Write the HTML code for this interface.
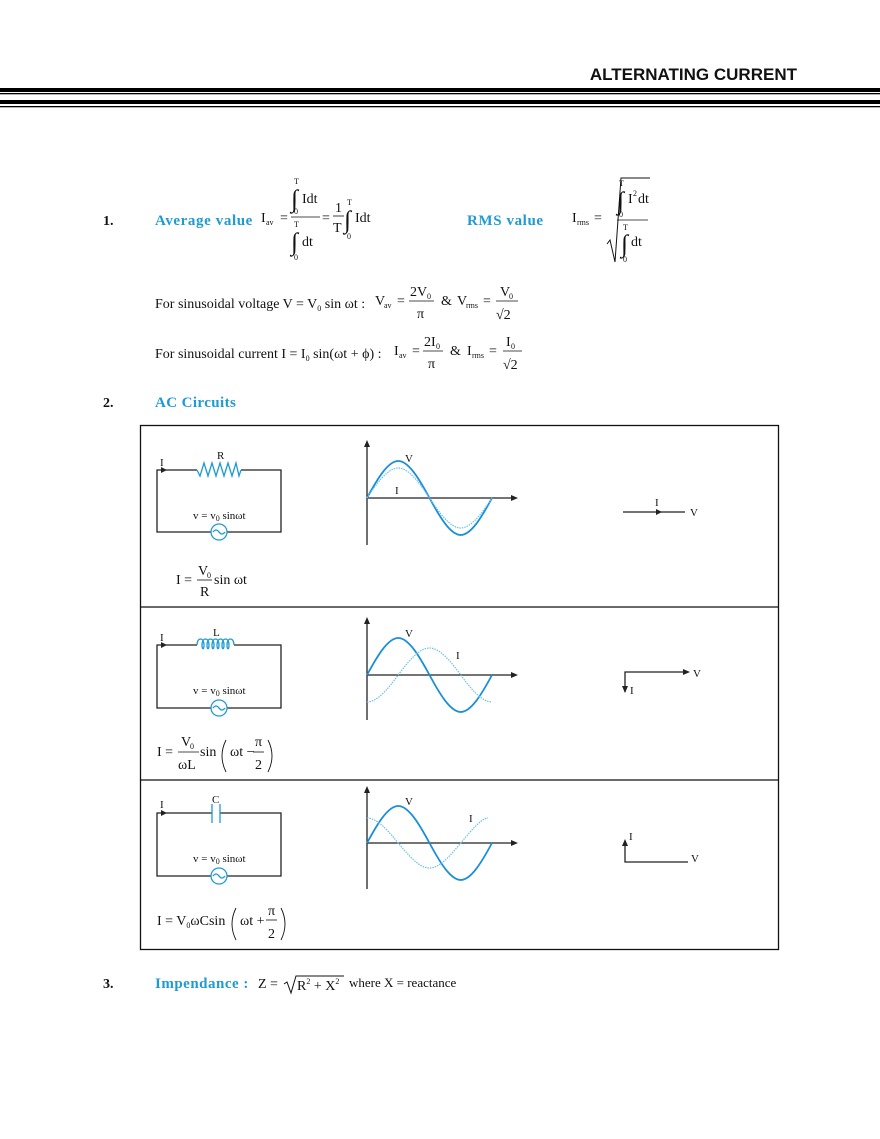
<!DOCTYPE html>
<html><head><meta charset="utf-8"><style>
html,body{margin:0;padding:0;background:#fff;}
svg{display:block;}
text{font-family:"Liberation Serif",serif;fill:#111;}
.b{fill:#1e9bd3;font-weight:bold;font-size:15px;}
.s{font-size:8px;}
.m{font-size:14px;}
.i{font-size:25px;}
</style></head><body>
<svg width="880" height="1139" viewBox="0 0 880 1139" xmlns="http://www.w3.org/2000/svg">
<text x="797" y="80" text-anchor="end" style="font-family:'Liberation Sans',sans-serif;font-weight:bold;font-size:17px">ALTERNATING CURRENT</text>
<rect x="0" y="88" width="880" height="4" fill="#000"/>
<rect x="0" y="93" width="880" height="1.3" fill="#000"/>
<rect x="0" y="100" width="880" height="4" fill="#000"/>
<rect x="0" y="106" width="880" height="1.3" fill="#000"/>

<!-- Section 1 -->
<text x="103" y="225" style="font-weight:bold;font-size:14px">1.</text>
<text x="155" y="225" class="b" style="letter-spacing:0.6px">Average value</text>
<text x="261" y="222" class="m">I</text><text x="266" y="225" class="s">av</text>
<text x="280" y="222" class="m">=</text>
<text x="294" y="184" class="s">T</text>
<text x="291" y="207" class="i">∫</text>
<text x="302" y="203" class="m">Idt</text>
<text x="294" y="214" class="s">0</text>
<line x1="291" y1="217" x2="320" y2="217" stroke="#111" stroke-width="0.8"/>
<text x="294" y="227" class="s">T</text>
<text x="291" y="250" class="i">∫</text>
<text x="302" y="246" class="m">dt</text>
<text x="294" y="260" class="s">0</text>
<text x="322" y="222" class="m">=</text>
<text x="335" y="212" class="m">1</text>
<line x1="333" y1="216" x2="344" y2="216" stroke="#111" stroke-width="0.8"/>
<text x="333" y="232" class="m">T</text>
<text x="347" y="205" class="s">T</text>
<text x="344" y="228" class="i">∫</text>
<text x="355" y="222" class="m">Idt</text>
<text x="347" y="239" class="s">0</text>

<text x="467" y="225" class="b" style="letter-spacing:0.6px">RMS value</text>
<text x="572" y="222" class="m">I</text><text x="577" y="225" class="s">rms</text>
<text x="594" y="222" class="m">=</text>
<polyline points="607,244 610,240 615,262 621,178 650,178" fill="none" stroke="#111" stroke-width="1"/>
<text x="619" y="186" class="s">T</text>
<text x="617" y="209" class="i">∫</text>
<text x="628" y="203" class="m">I</text><text x="633" y="196" class="s">2</text><text x="638" y="203" class="m">dt</text>
<text x="619" y="217" class="s">0</text>
<line x1="617" y1="220" x2="648" y2="220" stroke="#111" stroke-width="0.8"/>
<text x="623" y="230" class="s">T</text>
<text x="621" y="252" class="i">∫</text>
<text x="631" y="246" class="m">dt</text>
<text x="623" y="262" class="s">0</text>

<text x="155" y="308" class="m">For sinusoidal voltage V = V<tspan class="s" dy="3">0</tspan><tspan dy="-3"> sin ωt :</tspan></text>
<text x="375" y="305" class="m">V</text><text x="384" y="308" class="s">av</text>
<text x="397" y="305" class="m">=</text>
<text x="410" y="296" class="m">2V</text><text x="427" y="299" class="s">0</text>
<line x1="409" y1="301" x2="434" y2="301" stroke="#111" stroke-width="0.8"/>
<text x="417" y="318" class="m">π</text>
<text x="441" y="305" class="m">&amp;</text>
<text x="457" y="305" class="m">V</text><text x="466" y="308" class="s">rms</text>
<text x="483" y="305" class="m">=</text>
<text x="500" y="296" class="m">V</text><text x="509" y="299" class="s">0</text>
<line x1="496" y1="301" x2="518" y2="301" stroke="#111" stroke-width="0.8"/>
<text x="496" y="319" class="m">√2</text>

<text x="155" y="358" class="m">For sinusoidal current I = I<tspan class="s" dy="3">0</tspan><tspan dy="-3"> sin(ωt + ϕ) :</tspan></text>
<text x="394" y="355" class="m">I</text><text x="399" y="358" class="s">av</text>
<text x="412" y="355" class="m">=</text>
<text x="424" y="346" class="m">2I</text><text x="436" y="349" class="s">0</text>
<line x1="423" y1="351" x2="443" y2="351" stroke="#111" stroke-width="0.8"/>
<text x="428" y="368" class="m">π</text>
<text x="450" y="355" class="m">&amp;</text>
<text x="467" y="355" class="m">I</text><text x="472" y="358" class="s">rms</text>
<text x="489" y="355" class="m">=</text>
<text x="506" y="346" class="m">I</text><text x="511" y="349" class="s">0</text>
<line x1="503" y1="351" x2="522" y2="351" stroke="#111" stroke-width="0.8"/>
<text x="503" y="369" class="m">√2</text>

<!-- Section 2 -->
<text x="103" y="407" style="font-weight:bold;font-size:14px">2.</text>
<text x="155" y="407" class="b" style="letter-spacing:0.4px">AC Circuits</text>

<rect x="140.5" y="425.5" width="638" height="524" fill="none" stroke="#111" stroke-width="1.3"/>
<line x1="140" y1="607" x2="779" y2="607" stroke="#111" stroke-width="1.3"/>
<line x1="140" y1="780" x2="779" y2="780" stroke="#111" stroke-width="1.3"/>

<g fill="none" stroke="#222" stroke-width="1.3">
<polyline points="197,470 157,470 157,532 211,532"/>
<polyline points="241,470 281,470 281,532 227,532"/>
<polyline points="197,645 157,645 157,708 211,708"/>
<polyline points="234,645 281,645 281,708 227,708"/>
<polyline points="212,813 157,813 157,876 211,876"/>
<polyline points="220,813 281,813 281,876 227,876"/>
</g>
<g fill="#222">
<polygon points="161,467 167,470 161,473"/>
<polygon points="161,642 167,645 161,648"/>
<polygon points="161,810 167,813 161,816"/>
</g>
<g fill="none" stroke="#1e9bd3" stroke-width="1.3">
<polyline points="197,470 200,476 204,463 208,476 212,463 216,476 220,463 224,476 228,463 232,476 236,463 239,476 241,470"/>
<path d="M197,645 c0,-8 7,-8 7,0 c0,5 -2,5 -2,0 c0,-8 7,-8 7,0 c0,5 -2,5 -2,0 c0,-8 7,-8 7,0 c0,5 -2,5 -2,0 c0,-8 7,-8 7,0 c0,5 -2,5 -2,0 c0,-8 7,-8 7,0 c0,5 -2,5 -2,0 c0,-8 7,-8 7,0 c0,5 -2,5 -2,0 c0,-8 7,-8 7,0"/>
<line x1="212" y1="804" x2="212" y2="823"/>
<line x1="220" y1="804" x2="220" y2="823"/>
<circle cx="219" cy="532" r="8"/><path d="M213,532 q3,-4 6,0 q3,4 6,0"/>
<circle cx="219" cy="708" r="8"/><path d="M213,708 q3,-4 6,0 q3,4 6,0"/>
<circle cx="219" cy="876" r="8"/><path d="M213,876 q3,-4 6,0 q3,4 6,0"/>
</g>
<g style="font-size:11px">
<text x="160" y="466">I</text><text x="217" y="459">R</text>
<text x="160" y="641">I</text><text x="213" y="636">L</text>
<text x="160" y="808">I</text><text x="212" y="803">C</text>
<text x="193" y="519">v = v<tspan class="s" dy="2">0</tspan><tspan dy="-2"> sinωt</tspan></text>
<text x="193" y="694">v = v<tspan class="s" dy="2">0</tspan><tspan dy="-2"> sinωt</tspan></text>
<text x="193" y="862">v = v<tspan class="s" dy="2">0</tspan><tspan dy="-2"> sinωt</tspan></text>
</g>

<text x="176" y="584" class="m">I =</text>
<text x="198" y="575" class="m">V</text><text x="207" y="578" class="s">0</text>
<line x1="197" y1="580" x2="212" y2="580" stroke="#111" stroke-width="0.8"/>
<text x="200" y="596" class="m">R</text>
<text x="214" y="584" class="m">sin ωt</text>

<text x="157" y="756" class="m">I =</text>
<text x="181" y="746" class="m">V</text><text x="190" y="749" class="s">0</text>
<line x1="178" y1="752" x2="199" y2="752" stroke="#111" stroke-width="0.8"/>
<text x="178" y="769" class="m">ωL</text>
<text x="200" y="756" class="m">sin</text>
<path d="M226,740 q-8,16 0,32" fill="none" stroke="#111" stroke-width="0.9"/>
<text x="230" y="756" class="m">ωt −</text>
<text x="255" y="746" class="m">π</text>
<line x1="253" y1="752" x2="264" y2="752" stroke="#111" stroke-width="0.8"/>
<text x="255" y="769" class="m">2</text>
<path d="M268,740 q8,16 0,32" fill="none" stroke="#111" stroke-width="0.9"/>

<text x="157" y="925" class="m">I = V<tspan class="s" dy="3">0</tspan><tspan dy="-3">ωCsin</tspan></text>
<path d="M236,908 q-8,16 0,32" fill="none" stroke="#111" stroke-width="0.9"/>
<text x="240" y="925" class="m">ωt +</text>
<text x="268" y="915" class="m">π</text>
<line x1="266" y1="920" x2="277" y2="920" stroke="#111" stroke-width="0.8"/>
<text x="268" y="938" class="m">2</text>
<path d="M281,908 q8,16 0,32" fill="none" stroke="#111" stroke-width="0.9"/>

<g stroke="#222" stroke-width="1.3" fill="none">
<line x1="367" y1="545" x2="367" y2="445"/><line x1="367" y1="498" x2="513" y2="498"/>
<line x1="367" y1="720" x2="367" y2="622"/><line x1="367" y1="675" x2="513" y2="675"/>
<line x1="367" y1="889" x2="367" y2="791"/><line x1="367" y1="843" x2="513" y2="843"/>
</g>
<g fill="#222">
<polygon points="364,447 367,440 370,447"/><polygon points="511,495 518,498 511,501"/>
<polygon points="364,624 367,617 370,624"/><polygon points="511,672 518,675 511,678"/>
<polygon points="364,793 367,786 370,793"/><polygon points="511,840 518,843 511,846"/>
</g>
<g fill="none" stroke="#1a8fd8" stroke-width="1.8">
<path d="M367,498 C377.2,479.1 387.9,461 398.25,461 C408.6,461 419.3,479.1 429.5,498 C439.7,516.9 450.4,535 460.75,535 C471.1,535 481.8,516.9 492,498"/>
<path d="M367,675 C377.2,656.1 387.9,638 398.25,638 C408.6,638 419.3,656.1 429.5,675 C439.7,693.9 450.4,712 460.75,712 C471.1,712 481.8,693.9 492,675"/>
<path d="M367,843 C377.2,824.1 387.9,806 398.25,806 C408.6,806 419.3,824.1 429.5,843 C439.7,861.9 450.4,880 460.75,880 C471.1,880 481.8,861.9 492,843"/>
</g>
<g fill="none" stroke="#6cc0ea" stroke-width="1.2" stroke-dasharray="1.5,1">
<path d="M367,498 C377.2,482.6 387.9,468 398.25,468 C408.6,468 419.3,482.6 429.5,498 C439.7,513.4 450.4,528 460.75,528 C471.1,528 481.8,513.4 492,498"/>
<path d="M367,702 C377.4,702 388.1,688.8 398.25,675 C408.4,661.2 419.1,648 429.5,648 C439.9,648 450.6,661.2 460.75,675 C470.9,688.8 481.6,702 492,702"/>
<path d="M367,818 C377.4,818 388.1,830.8 398.25,843 C408.4,855.2 419.1,868 429.5,868 C439.9,868 450.6,855.2 460.75,843 C470.9,830.8 481.6,818 488,818"/>
</g>
<g style="font-size:11px">
<text x="405" y="462">V</text><text x="395" y="494">I</text>
<text x="405" y="637">V</text><text x="456" y="659">I</text>
<text x="405" y="805">V</text><text x="469" y="822">I</text>
</g>

<g stroke="#222" stroke-width="1.3" fill="none">
<line x1="623" y1="512" x2="685" y2="512"/>
<polyline points="625,692 625,672 686,672"/>
<polyline points="625,843 625,862 688,862"/>
</g>
<g fill="#222">
<polygon points="656,509 662,512 656,515"/>
<polygon points="683,669 690,672 683,675"/>
<polygon points="622,686 625,693 628,686"/>
<polygon points="622,846 625,839 628,846"/>
</g>
<g style="font-size:11px">
<text x="655" y="506">I</text><text x="690" y="516">V</text>
<text x="693" y="677">V</text><text x="630" y="694">I</text>
<text x="629" y="840">I</text><text x="691" y="862">V</text>
</g>

<text x="103" y="988" style="font-weight:bold;font-size:14px">3.</text>
<text x="155" y="988" class="b" style="letter-spacing:0.5px">Impendance :</text>
<text x="258" y="988" class="m">Z =</text>
<polyline points="284,984 287,982 291,993 296,976 344,976" fill="none" stroke="#111" stroke-width="1"/>
<text x="297" y="990" class="m">R<tspan class="s" dy="-6">2</tspan><tspan dy="6"> + X</tspan><tspan class="s" dy="-6">2</tspan></text>
<text x="349" y="987" style="font-size:13px">where X = reactance</text>
</svg>
</body></html>
